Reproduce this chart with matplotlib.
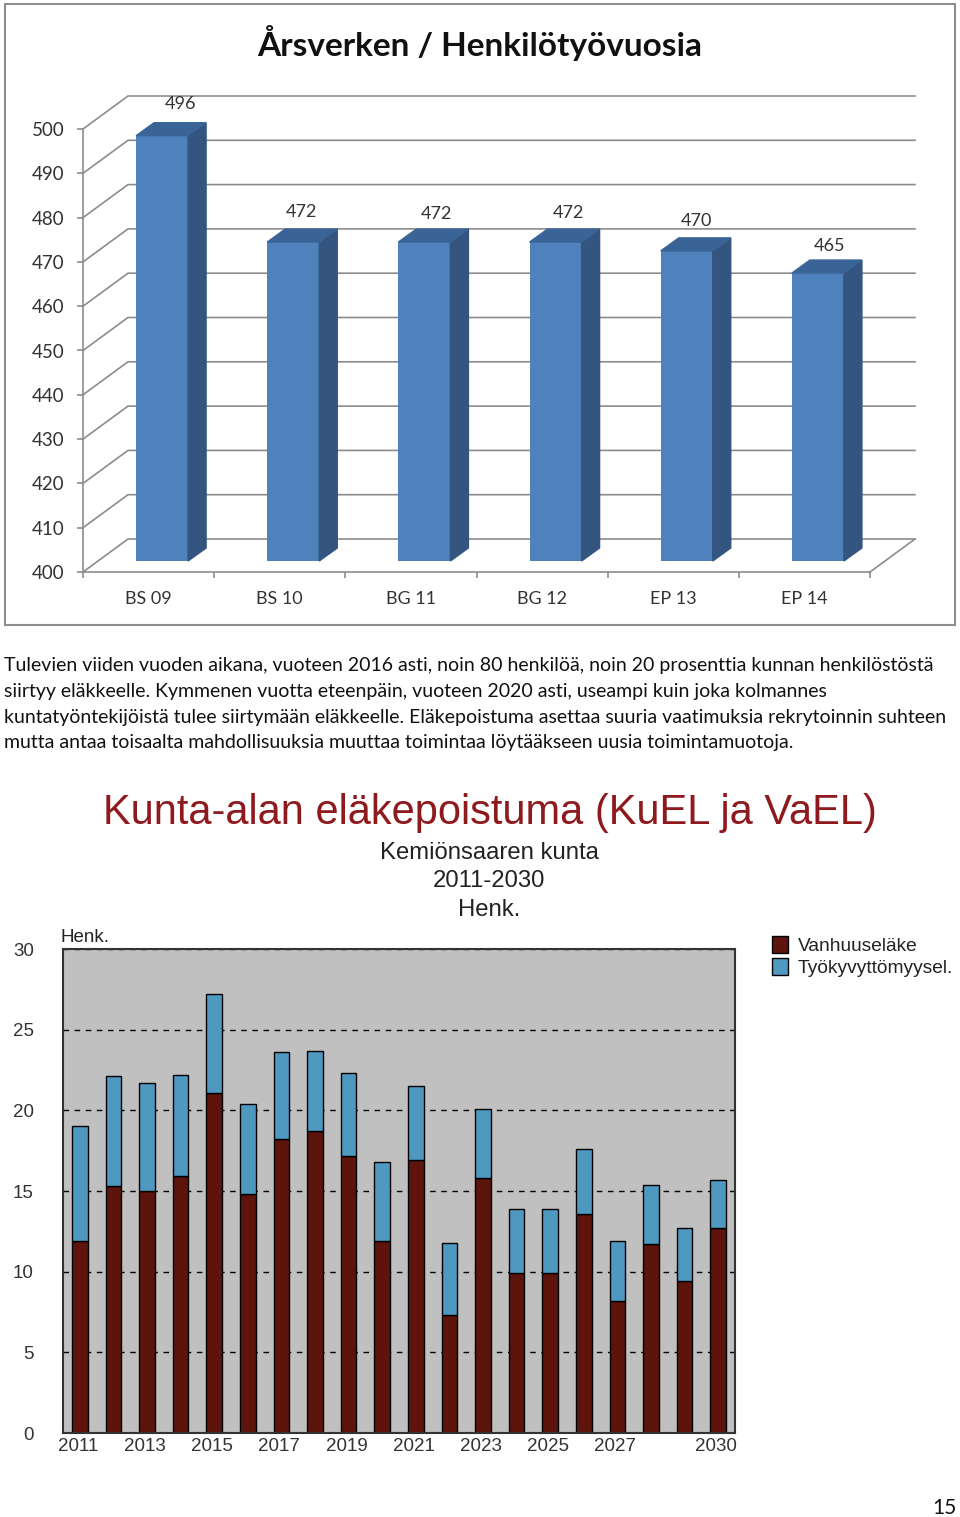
import matplotlib
matplotlib.use("Agg")
import matplotlib.pyplot as plt
from matplotlib.patches import Rectangle, Polygon
from matplotlib.transforms import ScaledTranslation

W, H = 960, 1517

# top chart data
cats = ["BS 09", "BS 10", "BG 11", "BG 12", "EP 13", "EP 14"]
fte = [496, 472, 472, 472, 470, 465]
top_ticks = [400, 410, 420, 430, 440, 450, 460, 470, 480, 490, 500]

# bottom chart data
years = list(range(2011, 2031))
year_labels = ["2011", "", "2013", "", "2015", "", "2017", "", "2019", "", "2021", "", "2023", "", "2025", "", "2027", "", "", "2030"]
old_age = [11.9, 15.3, 15.0, 15.9, 21.1, 14.8, 18.2, 18.7, 17.2, 11.9, 16.9, 7.3, 15.8, 9.9, 9.9, 13.6, 8.2, 11.7, 9.4, 12.7]
disability = [7.1, 6.8, 6.7, 6.3, 6.1, 5.6, 5.4, 5.0, 5.1, 4.9, 4.6, 4.5, 4.3, 4.0, 4.0, 4.0, 3.7, 3.7, 3.3, 3.0]

body = [
    "Tulevien viiden vuoden aikana, vuoteen 2016 asti, noin 80 henkilöä, noin 20 prosenttia kunnan henkilöstöstä",
    "siirtyy eläkkeelle. Kymmenen vuotta eteenpäin, vuoteen 2020 asti, useampi kuin joka kolmannes",
    "kuntatyöntekijöistä tulee siirtymään eläkkeelle. Eläkepoistuma asettaa suuria vaatimuksia rekrytoinnin suhteen",
    "mutta antaa toisaalta mahdollisuuksia muuttaa toimintaa löytääkseen uusia toimintamuotoja.",
]


def fx(px):
    return px / W


def fy(px):
    return 1 - px / H


def axes_box(x0, y0, x1, y1):
    # pixel box, y measured from the top of the page
    return [fx(x0), fy(y1), (x1 - x0) / W, (y1 - y0) / H]


fig = plt.figure(figsize=(9.6, 15.17), dpi=100, facecolor="white")

# ---- top chart, fake 3d ----
fig.add_artist(Rectangle((fx(5), fy(625)), 950 / W, 621 / H, transform=fig.transFigure,
                         fill=False, edgecolor="#8e8e8e", lw=1.5))
fig.text(fx(480), fy(43), "Årsverken / Henkilötyövuosia", family="Lato", weight="bold",
         fontsize=24, ha="center", va="center", color="#111111")

ax = fig.add_axes(axes_box(83, 129, 870, 572))
ax.set_xlim(0, 6)
ax.set_ylim(400, 500)
ax.patch.set_alpha(0)
ux = 6 / 787  # data units for one pixel
uy = 100 / 443
grey = "#8c8c8c"

wall_x, wall_y = 45 * ux, 33 * uy
for v in top_ticks:
    ax.plot([0, wall_x, 6 + wall_x], [v, v + wall_y, v + wall_y], color=grey, lw=1.2, clip_on=False, zorder=1)
ax.plot([6, 6 + wall_x], [400, 400 + wall_y], color=grey, lw=1.2, clip_on=False, zorder=1)

bar_w = 52 * ux
shift_x, lift = 13.5 * ux, 11 * uy
depth_x, depth_y = 18 * ux, 13 * uy
label_dx = [18, 8, 12, 13, 10, 12]
label_dy = [19, 17, 15, 16, 17, 14]
for i, val in enumerate(fte):
    left = i + 0.5 + shift_x - bar_w / 2
    right = left + bar_w
    base = 400 + lift
    top = val + lift
    ax.bar(left, val - 400, bottom=base, width=bar_w, align="edge", color="#4f81bd", zorder=3)
    ax.add_patch(Polygon([(right, base), (right + depth_x, base + depth_y), (right + depth_x, top + depth_y), (right, top)],
                         color="#335580", zorder=3, clip_on=False))
    ax.add_patch(Polygon([(left, top), (left + depth_x, top + depth_y), (right + depth_x, top + depth_y), (right, top)],
                         color="#3a6396", zorder=3, clip_on=False))
    ax.annotate(str(val), (left + bar_w / 2 + depth_x, top + depth_y), xytext=(label_dx[i] - 18, label_dy[i]),
                textcoords="offset pixels", ha="center", va="center", family="Lato", fontsize=13,
                color="#333333", annotation_clip=False)

for side in ["top", "right"]:
    ax.spines[side].set_visible(False)
for side in ["left", "bottom"]:
    ax.spines[side].set_color(grey)
    ax.spines[side].set_linewidth(1.2)
ax.set_yticks(top_ticks)
ax.set_xticks([i + 0.5 for i in range(6)], cats)
ax.set_xticks(range(7), minor=True)
ax.tick_params(axis="x", which="major", length=0, pad=13.5, labelsize=13, labelcolor="#333333")
ax.tick_params(axis="x", which="minor", length=4.5, width=1.2, color=grey)
ax.tick_params(axis="y", length=4.5, width=1.2, color=grey, pad=9, labelsize=13.5, labelcolor="#333333")
for t in ax.get_xticklabels() + ax.get_yticklabels():
    t.set_family("Lato")

# ---- body text ----
for line, y in zip(body, [666, 692, 717, 742]):
    fig.text(fx(4), fy(y), line, family="Lato", fontsize=14, ha="left", va="center", color="#111111")
fig.text(fx(957), fy(1508), "15", family="Lato", fontsize=15, ha="right", va="center", color="#111111")

# ---- bottom chart ----
fig.text(fx(490), fy(813), "Kunta-alan eläkepoistuma (KuEL ja VaEL)", family="Liberation Sans", fontsize=30,
         ha="center", va="center", color="#8e1a1e")
for line, y in zip(["Kemiönsaaren kunta", "2011-2030", "Henk."], [853, 881, 910]):
    fig.text(fx(489), fy(y), line, family="Liberation Sans", fontsize=17.2, ha="center", va="center", color="#222222")
fig.text(fx(61), fy(937), "Henk.", family="Liberation Sans", fontsize=13.5, ha="left", va="center", color="#222222")

ax2 = fig.add_axes(axes_box(63, 949, 735, 1433))
ax2.set_facecolor("#c0c0c0")
ax2.set_axisbelow(True)
b1 = ax2.bar(years, old_age, width=0.47, color="#5c140c", edgecolor="black", lw=1, label="Vanhuuseläke")
b2 = ax2.bar(years, disability, width=0.47, bottom=old_age, color="#4f98c0", edgecolor="black", lw=1, label="Työkyvyttömyysel.")
ax2.set_xlim(2010.5, 2030.5)
ax2.set_ylim(0, 30)
ax2.set_yticks(range(0, 31, 5))
ax2.set_xticks(years, year_labels)
ax2.grid(axis="y", color="black", ls=(0, (4, 4)), lw=1)
ax2.tick_params(length=0, labelsize=13.5, labelcolor="#333333")
ax2.tick_params(axis="y", pad=21)
ax2.tick_params(axis="x", pad=3.5)
label_shift = ScaledTranslation(-1.5 / 72, 0, fig.dpi_scale_trans)
for t in ax2.get_xticklabels() + ax2.get_yticklabels():
    t.set_family("Liberation Sans")
for t in ax2.get_xticklabels():
    t.set_transform(t.get_transform() + label_shift)
for side in ax2.spines.values():
    side.set_color("#333333")
    side.set_linewidth(1.5)

fig.legend(handles=[b1, b2], loc="upper left", bbox_to_anchor=(fx(768.5), fy(932.5)), frameon=False,
           prop={"family": "Liberation Sans", "size": 13.8}, handlelength=0.82, handleheight=1.0,
           handletextpad=0.5, labelspacing=0.12, borderpad=0.2, borderaxespad=0, labelcolor="#222222")

fig.savefig("out.png", dpi=100)
